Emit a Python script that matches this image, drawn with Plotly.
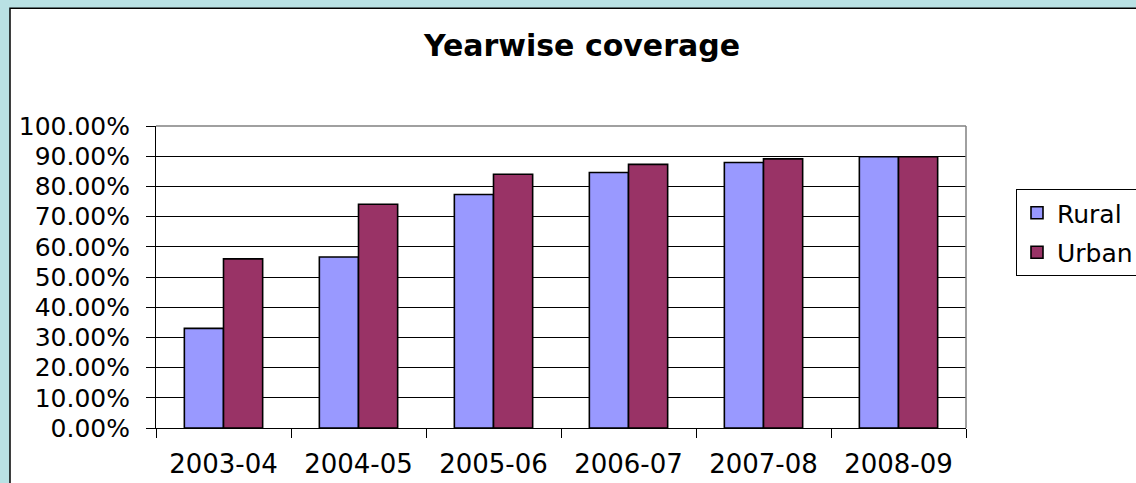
import plotly.graph_objects as go

years = ["2003-04", "2004-05", "2005-06", "2006-07", "2007-08", "2008-09"]
rural = [0.330, 0.566, 0.773, 0.846, 0.879, 0.898]
urban = [0.560, 0.741, 0.840, 0.873, 0.891, 0.898]
y_ticks = [0, 0.1, 0.2, 0.3, 0.4, 0.5, 0.6, 0.7, 0.8, 0.9, 1.0]

W, H = 1136, 483
L, R, T, B = 156, 170, 126, 55
pw = W - L - R
ph = H - T - B

fig = go.Figure()
fig.add_trace(go.Bar(name="Rural", x=years, y=rural, legendgroup="a",
                     marker=dict(color="#9999FF", line=dict(color="#000000", width=1.6))))
fig.add_trace(go.Bar(name="Urban", x=years, y=urban, legendgroup="b",
                     marker=dict(color="#993366", line=dict(color="#000000", width=1.6))))

font = "DejaVu Sans"

# white chart area with black frame
fig.add_shape(type="rect", xref="paper", yref="paper", layer="below",
              x0=(10 - L) / pw, x1=(W + 20 - L) / pw,
              y0=-(B + 20) / ph, y1=(H - B - 8.3) / ph,
              fillcolor="#FFFFFF", line=dict(color="#000000", width=1.5))
# gray top and right plot border
fig.add_shape(type="line", xref="paper", yref="paper", x0=0, x1=1, y0=1, y1=1,
              line=dict(color="#808080", width=1.5))
fig.add_shape(type="line", xref="paper", yref="paper", x0=1, x1=1, y0=0, y1=1,
              line=dict(color="#808080", width=1.5))

fig.update_layout(
    width=W, height=H,
    margin=dict(l=L, r=R, t=T, b=B, pad=0, autoexpand=False),
    paper_bgcolor="#B9E1E4",
    plot_bgcolor="#C0C0C0",
    barmode="group", bargap=0.42, bargroupgap=0,
    title=dict(text="Yearwise coverage", xref="paper", x=(582 - L) / pw, xanchor="center",
               yref="container", y=1 - 45 / H, yanchor="middle",
               font=dict(family=font, size=30, color="#000000", weight="bold")),
    legend=dict(x=(1016 - L) / pw, y=(H - B - 189) / ph, xanchor="left", yanchor="top",
                bgcolor="#FFFFFF", bordercolor="#000000", borderwidth=1,
                font=dict(family=font, size=25, color="#000000"),
                traceorder="grouped", tracegroupgap=4),
    xaxis=dict(type="category", showgrid=False, showline=True, linecolor="#000000", linewidth=1,
               ticks="outside", tickson="boundaries", ticklen=9, tickcolor="#000000",
               ticklabelstandoff=13, automargin=False,
               tickfont=dict(family=font, size=26, color="#000000"), zeroline=False),
    yaxis=dict(range=[0, 1], tickvals=y_ticks, tickformat=".2%", showgrid=True,
               gridcolor="#000000", gridwidth=1, showline=True, linecolor="#000000", linewidth=1,
               ticks="outside", ticklen=9, tickcolor="#000000", ticklabelstandoff=11,
               automargin=False,
               tickfont=dict(family=font, size=25, color="#000000"), zeroline=False),
)

fig.write_html("out.html", config={"displayModeBar": False},
               post_script="document.body.style.margin='0';document.body.style.overflow='hidden';")
